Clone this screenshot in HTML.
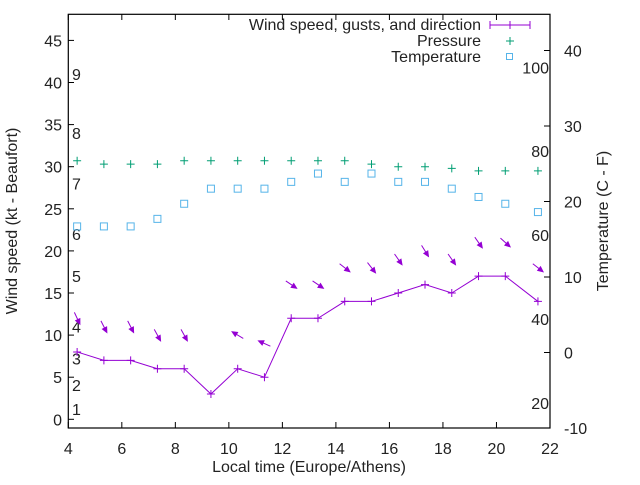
<!DOCTYPE html>
<html><head><meta charset="utf-8"><style>
body{margin:0;background:#fff}
svg text{font-family:"Liberation Sans",sans-serif;font-size:16px;fill:#222}
</style></head><body>
<svg width="640" height="480" id="c" xmlns="http://www.w3.org/2000/svg">
<rect x="68.3" y="14.3" width="481.7" height="413.7" fill="none" stroke="#000" stroke-width="1.2"/>
<text x="17" y="221" transform="rotate(-90 17 221)" text-anchor="middle">Wind speed (kt - Beaufort)</text>
<text x="608" y="221" transform="rotate(-90 608 221)" text-anchor="middle">Temperature (C - F)</text>
<text x="309" y="472" text-anchor="middle">Local time (Europe/Athens)</text>
<g id="legend">
<text x="481" y="30" text-anchor="end">Wind speed, gusts, and direction</text>
<text x="481" y="46" text-anchor="end">Pressure</text>
<text x="481" y="62" text-anchor="end">Temperature</text>
<g stroke="#9400d3"><line x1="490" y1="25" x2="530" y2="25"/><line x1="490" y1="21" x2="490" y2="29"/><line x1="530" y1="21" x2="530" y2="29"/><line x1="510" y1="21" x2="510" y2="29"/></g>
<g stroke="#009e73"><line x1="506" y1="41" x2="514" y2="41"/><line x1="510" y1="37" x2="510" y2="45"/></g>
<rect x="506.5" y="53.5" width="6" height="6" fill="none" stroke="#56b4e9"/>
</g>
</svg>
<script>
const hours=[4.33,5.33,6.33,7.33,8.33,9.33,10.33,11.33,12.33,13.33,14.33,15.33,16.33,17.33,18.33,19.33,20.33,21.55];
const windSpeed=[8,7,7,6,6,3,6,5,12,12,14,14,15,16,15,17,17,14];
const gusts=[12,11,11,10,10,null,10,9,16,16,18,18,19,20,19,21,21,18];
const windDir=[335,333,333,331,331,null,121,114,304,304,308,322,325,328,325,325,312,308];
const pressure=[30.7,30.3,30.3,30.3,30.7,30.7,30.7,30.7,30.7,30.7,30.7,30.3,30.0,30.0,29.8,29.5,29.5,29.5];
const temperature=[16.7,16.7,16.7,17.7,19.7,21.7,21.7,21.7,22.6,23.7,22.6,23.7,22.6,22.6,21.7,20.6,19.7,18.6];
const xTicks=[4,6,8,10,12,14,16,18,20,22];
const yLeftTicks=[0,5,10,15,20,25,30,35,40,45];
const yRightTicks=[-10,0,10,20,30,40];
const fahrenheitLabels=[20,40,60,80,100];
const beaufortLabels=["1","2","3","4","5","6","7","8","9"];
const beaufortPos=[1.2,4.1,7.2,11,17,22,28,34,41];
const NS="http://www.w3.org/2000/svg";
const svg=document.getElementById('c');
const X=h=>68.3+(h-4)*26.76;
const YL=v=>419.3-v*8.42;
const YR=v=>352.5-v*7.55;
function mk(tag,attrs,parent){const e=document.createElementNS(NS,tag);for(const k in attrs)e.setAttribute(k,attrs[k]);(parent||svg).appendChild(e);return e;}
xTicks.forEach(t=>{const x=X(t);
 const l=mk('line',{x1:x,y1:428,x2:x,y2:422,stroke:'#000'});
 const l2=mk('line',{x1:x,y1:14.3,x2:x,y2:20,stroke:'#000'});
 const tx=mk('text',{x:x,y:454,'text-anchor':'middle'});tx.textContent=t;});
yLeftTicks.forEach(t=>{const y=YL(t);
 const l=mk('line',{x1:68.3,y1:y,x2:74,y2:y,stroke:'#000'});
 const tx=mk('text',{x:62,y:y+6,'text-anchor':'end'});tx.textContent=t;});
yRightTicks.forEach(t=>{const y=YR(t);
 const l=mk('line',{x1:544,y1:y,x2:550,y2:y,stroke:'#000'});
 const tx=mk('text',{x:564,y:y+6});tx.textContent=t;});
fahrenheitLabels.forEach(f=>{const y=YR((f-32)*5/9);
 const tx=mk('text',{x:549,y:y+6,'text-anchor':'end'});tx.textContent=f;});
beaufortLabels.forEach((b,i)=>{const tx=mk('text',{x:72,y:YL(beaufortPos[i])+6});tx.textContent=b;});
const pl=mk('polyline',{points:hours.map((h,i)=>X(h)+','+YL(windSpeed[i])).join(' '),fill:'none',stroke:'#9400d3','stroke-width':1});

hours.forEach((h,i)=>{const x=X(h),y=YL(windSpeed[i]);
 const g=mk('path',{d:`M${x-4},${y}H${x+4}M${x},${y-4}V${y+4}`,stroke:'#9400d3'});
 const p=mk('path',{d:`M${x-4},${YL(pressure[i])}H${x+4}M${x},${YL(pressure[i])-4}V${YL(pressure[i])+4}`,stroke:'#009e73'});
 const ty=YR(temperature[i]);const r=mk('rect',{x:x-3.5,y:ty-3.5,width:7,height:7,fill:'none',stroke:'#56b4e9'});
 if(gusts[i]!==null&&windDir[i]!==null){const b=(windDir[i]+180)*Math.PI/180;const dx=Math.sin(b),dy=-Math.cos(b);const L=13;const cy=YL(gusts[i]);
  const x1=x-dx*L/2,y1=cy-dy*L/2,x2=x+dx*L/2,y2=cy+dy*L/2;
  const px=-dy,py=dx;
  const a=mk('path',{d:`M${x1},${y1}L${x2},${y2}M${x2},${y2}L${x2-dx*5+px*2.3},${y2-dy*5+py*2.3}L${x2-dx*5-px*2.3},${y2-dy*5-py*2.3}Z`,stroke:'#9400d3',fill:'#9400d3','stroke-width':1});
  }
});
</script>
</body></html>
